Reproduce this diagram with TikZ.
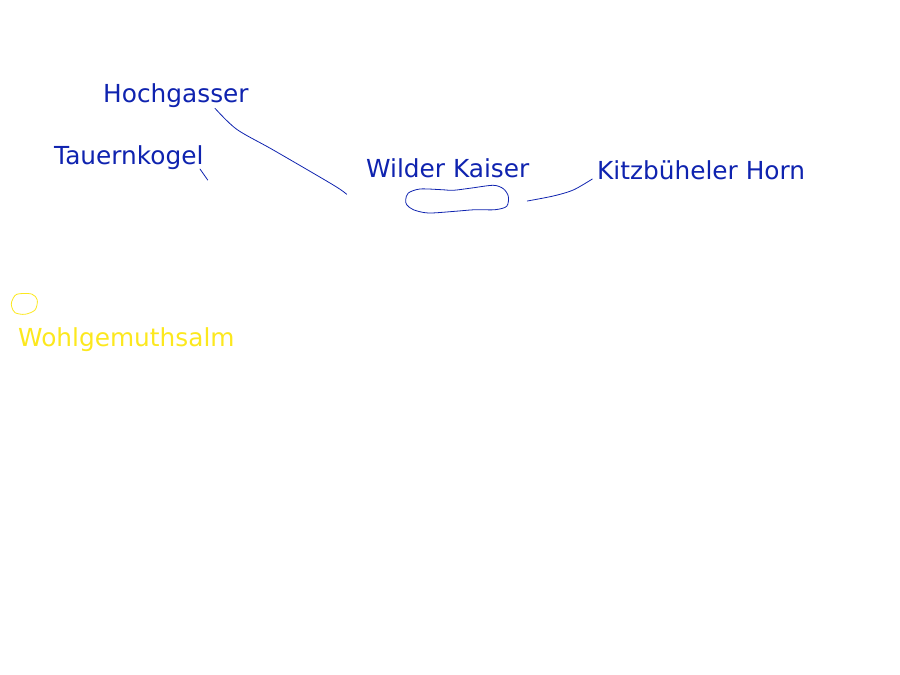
\documentclass[tikz,border=0pt]{standalone}
\usepackage{fontspec}
\setmainfont{DejaVu Sans}
\usepackage{xcolor}
\definecolor{inkblue}{RGB}{15,35,175}
\definecolor{inkyellow}{RGB}{252,232,30}
\tikzset{
 lbl/.style={anchor=base west,inner sep=0pt,font=\fontsize{24.8}{29}\selectfont},
 pen/.style={line width=0.8pt,line cap=round,line join=round}
}
\begin{document}
\begin{tikzpicture}[x=1pt,y=-1pt]
 \useasboundingbox (0,0) rectangle (900,675);

 \coordinate (h0) at (215,108.3);
 \coordinate (h1) at (236.7,129.3);
 \coordinate (h2) at (273.3,150);
 \coordinate (h3) at (333.3,185);
 \coordinate (h4) at (346.7,194.3);

 \coordinate (t0) at (200,169);
 \coordinate (t1) at (207.7,180);

 \coordinate (k0) at (527.3,201);
 \coordinate (k1) at (553.3,196);
 \coordinate (k2) at (573.3,190);
 \coordinate (k3) at (592.3,179);


\draw[pen,inkblue] plot[smooth] coordinates {(h0) (h1) (h2) (h3) (h4)};
\draw[pen,inkblue] (t0)--(t1);
\draw[pen,inkblue] plot[smooth] coordinates {(k0) (k1) (k2) (k3)};

\draw[pen,inkblue] plot[smooth cycle] coordinates {(405.7,199.7) (408.3,193) (420,189) (441.7,189.7) (453.3,190.3) (471.7,188) (493.3,185.3) (503.3,188.7) (508.3,196.3) (506.7,206.3) (495,209.7) (475,209.7) (455,211.3) (428.3,213) (413.3,209.7) (406.7,204.7)};

\draw[pen,inkyellow] plot[smooth cycle] coordinates {(11.7,301.7) (16.7,294.3) (31.7,294) (37.3,300) (35,310) (25,314.3) (15,312.7) (11.7,306.7)};


\node [lbl,text=inkblue] (hochgasser) at (103,102.3) {Hochgasser};
\node [lbl,text=inkblue] (tauernkogel) at (54,164) {Tauernkogel};
\node [lbl,text=inkblue] (wilderkaiser) at (366,177.3) {Wilder Kaiser};
\node [lbl,text=inkblue] (kitzbuehel) at (597,179.3) {Kitzbüheler Horn};
\node [lbl,text=inkyellow] (wohlgemuth) at (18,346.7) {Wohlgemuthsalm};

\end{tikzpicture}
\end{document}
